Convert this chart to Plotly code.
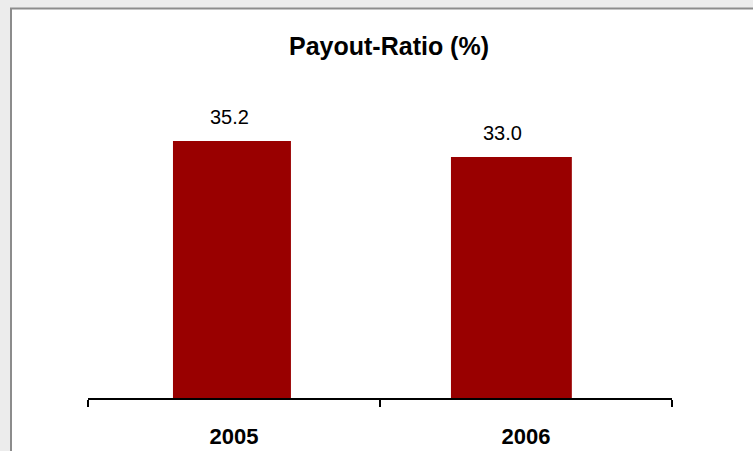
import plotly.graph_objects as go

categories = ["2005", "2006"]
payout_ratio = [35.2, 33.0]
value_labels = ["35.2", "33.0"]
title_text = "Payout-Ratio (%)"

W, H = 753, 451
FONT = "Liberation Sans, Arial, sans-serif"
AX_L, AX_R, AX_B, AX_T = 88, 672, 398, 106

fig = go.Figure(
    go.Bar(
        x=categories,
        y=payout_ratio,
        marker=dict(color="#990000", line=dict(width=0)),
        width=[0.404, 0.414],
        offset=[-0.209, -0.257],
        cliponaxis=False,
        hoverinfo="x+y",
    )
)

label_xshift = [-5, -24]
for idx, (val, lab, dx) in enumerate(zip(payout_ratio, value_labels, label_xshift)):
    fig.add_annotation(
        x=idx,
        y=val,
        text=lab,
        showarrow=False,
        xanchor="center",
        yanchor="middle",
        yshift=24,
        xshift=dx,
        font=dict(family=FONT, size=20, color="#000000"),
    )

fig.update_layout(
    width=W,
    height=H,
    margin=dict(l=0, r=0, t=0, b=0, autoexpand=False),
    paper_bgcolor="#ececec",
    plot_bgcolor="rgba(0,0,0,0)",
    showlegend=False,
    title=dict(
        text="<b>" + title_text + "</b>",
        font=dict(family=FONT, size=25, color="#000000"),
        x=389 / W,
        xanchor="center",
        y=1 - 46 / H,
        yanchor="middle",
    ),
    shapes=[
        dict(
            type="rect",
            xref="paper",
            yref="paper",
            x0=11 / W,
            x1=1.02,
            y0=-0.02,
            y1=1 - 8.5 / H,
            fillcolor="#ffffff",
            line=dict(color="#8c8c8c", width=2),
            layer="below",
        )
    ],
    xaxis=dict(
        type="category",
        categoryorder="array",
        categoryarray=categories,
        range=[-0.5, len(categories) - 0.5],
        automargin=False,
        domain=[AX_L / W, AX_R / W],
        showline=True,
        linecolor="#000000",
        linewidth=1.5,
        ticks="outside",
        tickson="boundaries",
        ticklen=7,
        tickwidth=1.5,
        tickcolor="#000000",
        tickangle=0,
        ticklabelstandoff=18,
        tickfont=dict(family=FONT, size=22, color="#000000", weight="bold"),
        showgrid=False,
        zeroline=False,
    ),
    yaxis=dict(
        automargin=False,
        domain=[(H - AX_B) / H, (H - AX_T) / H],
        range=[0, 40],
        visible=False,
        showgrid=False,
        zeroline=False,
    ),
)

fig.write_html(
    "out.html",
    config={"displayModeBar": False},
    post_script="document.body.style.margin='0';document.body.style.padding='0';"
    "document.body.style.background='#ececec';document.body.style.overflow='hidden';",
)
